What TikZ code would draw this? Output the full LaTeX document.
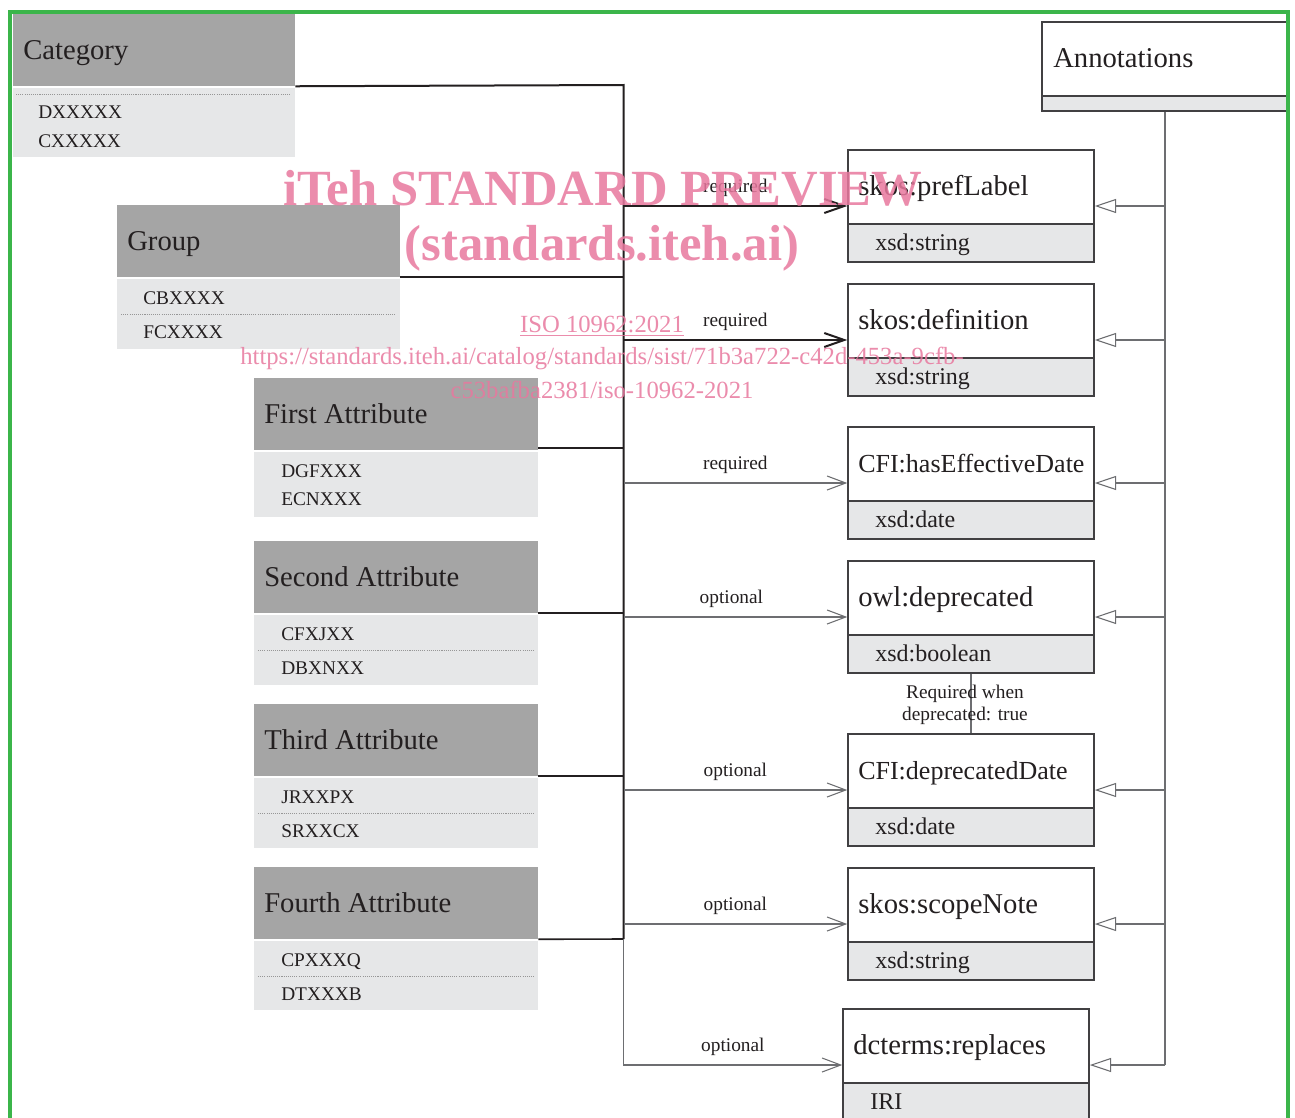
\documentclass[tikz,border=0pt]{standalone}
\usepackage{fontspec}
\setmainfont{Liberation Serif}
\usetikzlibrary{fit,arrows.meta}
\definecolor{hdr}{RGB}{165,165,165}
\definecolor{bdy}{RGB}{230,231,232}
\definecolor{ink}{RGB}{35,31,32}
\definecolor{gline}{RGB}{109,110,113}
\definecolor{bordc}{RGB}{65,64,66}
\definecolor{framec}{RGB}{59,181,74}
\definecolor{wm}{RGB}{232,120,158}
\definecolor{dotc}{RGB}{150,150,150}
\tikzset{
 hdrbox/.style={fill=hdr, inner sep=0pt, draw=none},
 bdybox/.style={fill=bdy, inner sep=0pt, draw=none},
 rb/.style={draw=bordc, line width=1.1pt, inner sep=0pt},
 ttl/.style={font=\fontsize{21.5}{24}\selectfont, text=ink, inner sep=0pt},
 rttl/.style={font=\fontsize{21.5}{24}\selectfont, text=ink, inner sep=0pt},
 rttls/.style={font=\fontsize{19.5}{24}\selectfont, text=ink, inner sep=0pt},
 codetxt/.style={font=\fontsize{14.5}{18}\selectfont, text=ink, inner sep=0pt},
 typ/.style={font=\fontsize{18}{20}\selectfont, text=ink, inner sep=0pt},
 lbl/.style={font=\fontsize{14.5}{16}\selectfont, text=ink, inner sep=0pt, anchor=base, yshift=10.5pt},
 note/.style={font=\fontsize{14.5}{16.5}\selectfont, text=ink, inner sep=0pt, align=center},
 dk/.style={draw=ink, line width=1.5pt},
 dkc/.style={draw=ink, line width=1.2pt},
 gl/.style={draw=gline, line width=0.8pt},
 dkarrow/.style={draw=ink, line width=1.5pt, -{Straight Barb[length=15pt,width=10.5pt]}},
 grarrow/.style={draw=gline, line width=0.8pt, -{Straight Barb[length=14pt,width=10.5pt]}},
 inh/.style={draw=gline, line width=0.8pt, -{Triangle[open, fill=white, length=16pt, width=10.5pt]}},
 dotln/.style={draw=dotc, line width=0.5pt, dash pattern=on 0.8pt off 0.8pt},
 wmbig/.style={font=\fontsize{38}{40}\selectfont\bfseries, text=wm, opacity=0.85, inner sep=0pt},
 wmsmall/.style={font=\fontsize{18.5}{20}\selectfont, text=wm, opacity=0.85, inner sep=0pt},
}
% left box: name, x1, x2, ytop, ybottom, title
\newcommand{\lbox}[6]{%
 \node[hdrbox, fit={(#2,#4) (#3,#4+72)}] (#1) {};
 \node[bdybox, fit={(#2,#4+74) (#3,#5)}] (#1b) {};
 \node[ttl, anchor=base west] (#1t) at (#2+10,#4+45) {#6};
}
% right box: name, x1, x2, ytop, title, type, title style
\newcommand{\rbox}[7]{%
 \fill[bdy] (#2,#4+74) rectangle (#3,#4+112);
 \draw[draw=bordc, line width=1.1pt] (#2,#4+74) -- (#3,#4+74);
 \node[rb, fit={(#2,#4) (#3,#4+112)}] (#1) {};
 \node[#7, anchor=base west] (#1t) at (#2+10,#4+45) {#5};
 \node[typ, anchor=base west] (#1y) at (#2+27,#4+100) {#6};
}
\begin{document}
\begin{tikzpicture}[x=0.75pt,y=-0.75pt]
\useasboundingbox (0,0) rectangle (1295,1117);
\fill[white] (0,0) rectangle (1295,1117);

% ---------- left boxes ----------
\lbox{cat}{13}{295}{14}{157}{Category}
\draw[dotln] (16,94) -- (290,94);
\node[codetxt, anchor=base west] (c1) at (38,118) {DXXXXX};
\node[codetxt, anchor=base west] (c2) at (38,147) {CXXXXX};

\lbox{grp}{117}{400}{205}{349}{Group}
\node[codetxt, anchor=base west] (g1) at (143,304) {CBXXXX};
\draw[dotln] (121,314) -- (396,314);
\node[codetxt, anchor=base west] (g2) at (143,338) {FCXXXX};

\lbox{fa}{254}{538}{378}{517}{First Attribute}
\node[codetxt, anchor=base west] (f1) at (281,477) {DGFXXX};
\node[codetxt, anchor=base west] (f2) at (281,505) {ECNXXX};

\lbox{sa}{254}{538}{541}{685}{Second Attribute}
\node[codetxt, anchor=base west] (s1) at (281,640) {CFXJXX};
\draw[dotln] (258,650) -- (534,650);
\node[codetxt, anchor=base west] (s2) at (281,674) {DBXNXX};

\lbox{ta}{254}{538}{704}{848}{Third Attribute}
\node[codetxt, anchor=base west] (t1) at (281,803) {JRXXPX};
\draw[dotln] (258,813) -- (534,813);
\node[codetxt, anchor=base west] (t2) at (281,837) {SRXXCX};

\lbox{fo}{254}{538}{867}{1010}{Fourth Attribute}
\node[codetxt, anchor=base west] (o1) at (281,966) {CPXXXQ};
\draw[dotln] (258,976) -- (534,976);
\node[codetxt, anchor=base west] (o2) at (281,1000) {DTXXXB};

% ---------- right boxes ----------
\rbox{pref}{848}{1094}{150}{skos:prefLabel}{xsd:string}{rttl}
\rbox{defn}{848}{1094}{284}{skos:definition}{xsd:string}{rttl}
\rbox{eff}{848}{1094}{427}{CFI:hasEffectiveDate}{xsd:date}{rttls}
\rbox{owl}{848}{1094}{561}{owl:deprecated}{xsd:boolean}{rttl}
\rbox{dep}{848}{1094}{734}{CFI:deprecatedDate}{xsd:date}{rttls}
\rbox{scope}{848}{1094}{868}{skos:scopeNote}{xsd:string}{rttl}
\rbox{repl}{843}{1089}{1009}{dcterms:replaces}{IRI}{rttl}

% ---------- annotations ----------
\fill[bdy] (1042,96) rectangle (1288,111);
\draw[draw=bordc, line width=1.1pt] (1042,96) -- (1288,96);
\node[rb, fit={(1042,22) (1288,111)}] (ann) {};
\node[ttl, anchor=base west] (annt) at (1053,67) {Annotations};

% ---------- bus ----------
\coordinate (bt) at (623.5,85);
\coordinate (bb) at (623.5,939);
\draw[dk] (cat.south east) -- (bt) -- (bb);
\draw[dkc] (fo.south east) -- (bb);
\draw[dkc] (grp.south east) -- (grp.south east -| bt);
\draw[dkc] ([yshift=1.5pt]fa.south east) -- ([yshift=1.5pt]fa.south east -| bt);
\draw[dkc] (sa.south east) -- (sa.south east -| bt);
\draw[dkc] (ta.south east) -- (ta.south east -| bt);

% ---------- property arrows ----------
\draw[dkarrow] (pref.west -| bt) -- (pref.west) node[lbl, midway] (l1) {required};
\draw[dkarrow] (defn.west -| bt) -- (defn.west) node[lbl, midway] (l2) {required};
\draw[grarrow] (eff.west -| bt) -- (eff.west) node[lbl, midway] (l3) {required};
\draw[grarrow] (owl.west -| bt) -- (owl.west) node[lbl, midway, xshift=-3pt] (l4) {optional};
\draw[grarrow] (dep.west -| bt) -- (dep.west) node[lbl, midway] (l5) {optional};
\draw[grarrow] (scope.west -| bt) -- (scope.west) node[lbl, midway] (l6) {optional};
\draw[grarrow] (bb) |- (repl.west) node[lbl, pos=0.75] (l7) {optional};

% ---------- dependency ----------
\draw[gl] (owl.south) -- (dep.north);
\node[note] (req) at (965,705) {Required when\\deprecated: true};

% ---------- inheritance ----------
\draw[gl] (ann.south) -- (ann.south |- repl.east);
\draw[inh] (ann.south |- pref.east) -- (pref.east);
\draw[inh] (ann.south |- defn.east) -- (defn.east);
\draw[inh] (ann.south |- eff.east) -- (eff.east);
\draw[inh] (ann.south |- owl.east) -- (owl.east);
\draw[inh] (ann.south |- dep.east) -- (dep.east);
\draw[inh] (ann.south |- scope.east) -- (scope.east);
\draw[inh] (ann.south |- repl.east) -- (repl.east);

% ---------- frame ----------
\draw[draw=framec, line width=3.2pt] (10,12) rectangle (1288,1160);

% ---------- watermark ----------
\node[wmbig] (w1) at (603,188) {iTeh STANDARD PREVIEW};
\node[wmbig] (w2) at (602,248) {(standards.iteh.ai)};
\node[wmsmall] (w3) at (602,326) {\underline{ISO 10962:2021}};
\node[wmsmall] (w4) at (602,358) {https://standards.iteh.ai/catalog/standards/sist/71b3a722-c42d-453a-9cfb-};
\node[wmsmall] (w5) at (602,390) {c53bafba2381/iso-10962-2021};
\end{tikzpicture}
\end{document}
